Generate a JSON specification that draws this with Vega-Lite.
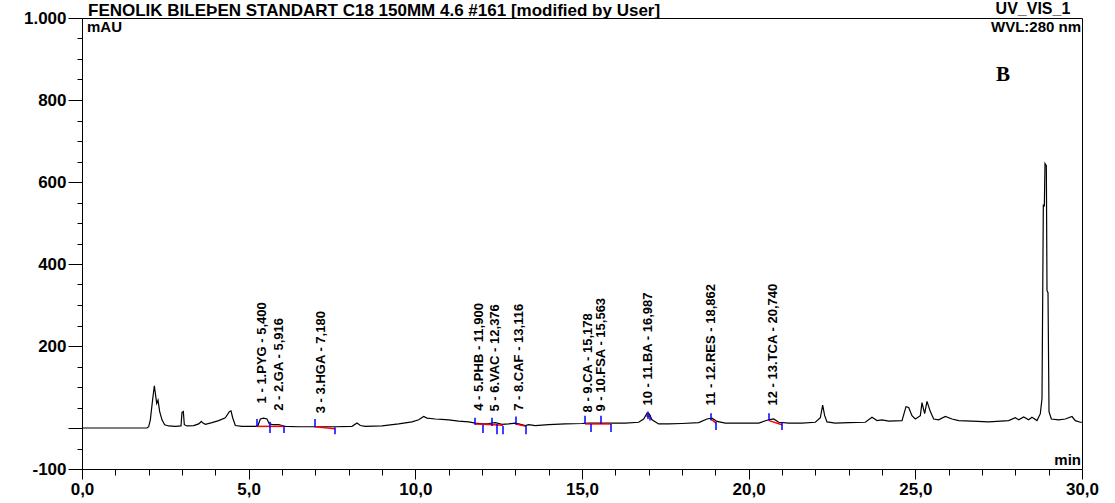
{
  "$schema": "https://vega.github.io/schema/vega-lite/v6.json",
  "width": 1000,
  "height": 451,
  "autosize": {"type": "none"},
  "padding": {"left": 82, "top": 18, "right": 33, "bottom": 34},
  "background": "white",
  "datasets": {
    "trace": [
      {"t":0,"v":0},{"t":1.95,"v":0},{"t":2.0,"v":3},{"t":2.05,"v":20},{"t":2.12,"v":70},{"t":2.17,"v":103},{"t":2.2,"v":85},{"t":2.24,"v":60},{"t":2.28,"v":68},{"t":2.33,"v":40},{"t":2.4,"v":20},{"t":2.48,"v":8},{"t":2.6,"v":5},{"t":2.8,"v":4},{"t":2.97,"v":5},{"t":3.0,"v":38},{"t":3.04,"v":40},{"t":3.07,"v":8},{"t":3.15,"v":5},{"t":3.35,"v":6},{"t":3.5,"v":10},{"t":3.58,"v":16},{"t":3.63,"v":12},{"t":3.7,"v":9},{"t":3.9,"v":13},{"t":4.1,"v":18},{"t":4.3,"v":25},{"t":4.42,"v":40},{"t":4.47,"v":42},{"t":4.52,"v":25},{"t":4.6,"v":6},{"t":4.8,"v":4},{"t":5.2,"v":4},{"t":5.28,"v":6},{"t":5.35,"v":22},{"t":5.45,"v":24},{"t":5.55,"v":22},{"t":5.62,"v":10},{"t":5.75,"v":8},{"t":5.9,"v":8},{"t":6.0,"v":6},{"t":6.1,"v":4},{"t":6.5,"v":3},{"t":7.0,"v":3},{"t":7.3,"v":3},{"t":7.6,"v":3},{"t":8.1,"v":4},{"t":8.25,"v":12},{"t":8.35,"v":6},{"t":8.5,"v":4},{"t":9.0,"v":5},{"t":9.5,"v":10},{"t":9.9,"v":15},{"t":10.1,"v":20},{"t":10.25,"v":28},{"t":10.35,"v":24},{"t":10.6,"v":22},{"t":10.8,"v":21},{"t":11.0,"v":20},{"t":11.3,"v":17},{"t":11.6,"v":15},{"t":11.8,"v":12},{"t":12.0,"v":10},{"t":12.2,"v":11},{"t":12.4,"v":13},{"t":12.6,"v":9},{"t":12.8,"v":10},{"t":13.0,"v":12},{"t":13.1,"v":10},{"t":13.3,"v":6},{"t":13.4,"v":8},{"t":13.6,"v":6},{"t":14.0,"v":8},{"t":14.5,"v":10},{"t":15.0,"v":11},{"t":15.2,"v":12},{"t":15.5,"v":12},{"t":15.9,"v":12},{"t":16.3,"v":12},{"t":16.7,"v":14},{"t":16.85,"v":22},{"t":16.95,"v":36},{"t":17.02,"v":34},{"t":17.1,"v":20},{"t":17.3,"v":10},{"t":17.6,"v":10},{"t":18.0,"v":11},{"t":18.5,"v":13},{"t":18.75,"v":22},{"t":18.9,"v":24},{"t":19.05,"v":16},{"t":19.3,"v":12},{"t":19.8,"v":12},{"t":20.3,"v":12},{"t":20.6,"v":20},{"t":20.75,"v":22},{"t":20.9,"v":14},{"t":21.2,"v":12},{"t":21.6,"v":12},{"t":22.0,"v":14},{"t":22.15,"v":25},{"t":22.22,"v":56},{"t":22.28,"v":30},{"t":22.35,"v":15},{"t":22.6,"v":12},{"t":23.0,"v":13},{"t":23.5,"v":14},{"t":23.7,"v":26},{"t":23.85,"v":18},{"t":24.0,"v":20},{"t":24.2,"v":17},{"t":24.6,"v":18},{"t":24.72,"v":52},{"t":24.8,"v":50},{"t":24.9,"v":30},{"t":25.0,"v":22},{"t":25.15,"v":30},{"t":25.2,"v":62},{"t":25.28,"v":35},{"t":25.35,"v":65},{"t":25.45,"v":40},{"t":25.55,"v":22},{"t":25.7,"v":20},{"t":25.9,"v":28},{"t":26.1,"v":22},{"t":26.3,"v":18},{"t":26.7,"v":17},{"t":27.2,"v":15},{"t":27.8,"v":18},{"t":28.0,"v":25},{"t":28.1,"v":20},{"t":28.25,"v":27},{"t":28.4,"v":20},{"t":28.5,"v":26},{"t":28.65,"v":18},{"t":28.75,"v":35},{"t":28.8,"v":72},{"t":28.84,"v":545},{"t":28.87,"v":540},{"t":28.89,"v":645},{"t":28.93,"v":640},{"t":28.95,"v":335},{"t":28.98,"v":330},{"t":29.01,"v":40},{"t":29.08,"v":22},{"t":29.3,"v":20},{"t":29.5,"v":22},{"t":29.7,"v":28},{"t":29.8,"v":18},{"t":29.95,"v":14},{"t":30,"v":14}
    ],
    "peaks": [
      {"rt":5.4,"lab":60,"label":"1 - 1.PYG - 5,400"},
      {"rt":5.916,"lab":42,"label":"2 - 2.GA - 5,916"},
      {"rt":7.18,"lab":36,"label":"3 - 3.HGA - 7,180"},
      {"rt":11.9,"lab":42,"label":"4 - 5.PHB - 11,900"},
      {"rt":12.376,"lab":40,"label":"5 - 6.VAC - 12,376"},
      {"rt":13.116,"lab":42,"label":"7 - 8.CAF - 13,116"},
      {"rt":15.178,"lab":38,"label":"8 - 9.CA - 15,178"},
      {"rt":15.563,"lab":40,"label":"9 - 10.FSA - 15,563"},
      {"rt":16.987,"lab":55,"label":"10 - 11.BA - 16,987"},
      {"rt":18.862,"lab":55,"label":"11 - 12.RES - 18,862"},
      {"rt":20.74,"lab":55,"label":"12 - 13.TCA - 20,740"}
    ],
    "delims": [
      {"t":5.25,"lo":3,"hi":22},{"t":5.64,"lo":-12,"hi":15},{"t":6.06,"lo":-12,"hi":5},
      {"t":6.99,"lo":2,"hi":22},{"t":7.59,"lo":-15,"hi":2},
      {"t":11.79,"lo":8,"hi":25},{"t":12.03,"lo":-12,"hi":8},{"t":12.3,"lo":5,"hi":25},{"t":12.45,"lo":-15,"hi":10},{"t":12.63,"lo":-15,"hi":5},
      {"t":13.02,"lo":8,"hi":28},{"t":13.32,"lo":-15,"hi":5},
      {"t":15.09,"lo":10,"hi":30},{"t":15.27,"lo":-10,"hi":10},{"t":15.57,"lo":10,"hi":30},{"t":15.87,"lo":-10,"hi":10},
      {"t":16.98,"lo":22,"hi":40},{"t":17.04,"lo":18,"hi":32},
      {"t":18.87,"lo":18,"hi":36},{"t":19.02,"lo":-5,"hi":15},
      {"t":20.61,"lo":18,"hi":36},{"t":21.0,"lo":-5,"hi":14}
    ],
    "bases": [
      {"t1":5.25,"v1":4,"t2":6.06,"v2":4},
      {"t1":6.99,"v1":3,"t2":7.59,"v2":-2},
      {"t1":11.79,"v1":10,"t2":12.03,"v2":9},
      {"t1":12.03,"v1":9,"t2":12.63,"v2":7},
      {"t1":13.02,"v1":10,"t2":13.32,"v2":4},
      {"t1":15.09,"v1":10,"t2":15.87,"v2":10},
      {"t1":16.92,"v1":30,"t2":17.04,"v2":28},
      {"t1":18.87,"v1":22,"t2":19.02,"v2":12},
      {"t1":20.61,"v1":18,"t2":21.0,"v2":8}
    ]
  },
  "layer": [
    {
      "data": {"name": "trace"},
      "mark": {"type": "line", "color": "black", "strokeWidth": 1.2},
      "encoding": {
        "x": {"field": "t", "type": "quantitative", "scale": {"domain": [0, 30], "nice": false, "zero": false},
          "axis": {"title": null, "orient": "bottom", "values": [0,5,10,15,20,25,30],
            "labelExpr": "replace(format(datum.value, '.1f'), '.', ',')",
            "tickSize": 10, "labelFlush": false, "labelOverlap": false, "labelPadding": 2}},
        "y": {"field": "v", "type": "quantitative", "scale": {"domain": [-100, 1000], "nice": false, "zero": false},
          "axis": {"title": null, "orient": "left", "values": [-100,0,200,400,600,800,1000],
            "labelExpr": "datum.value === 1000 ? '1.000' : datum.value === 0 ? '' : '' + datum.value",
            "tickSize": 14, "labelFlush": false, "labelOverlap": false, "labelPadding": 2}}
      }
    },
    {
      "data": {"name": "bases"},
      "mark": {"type": "rule", "color": "#ff0000", "strokeWidth": 1.5},
      "encoding": {
        "x": {"field": "t1", "type": "quantitative",
          "axis": {"title": null, "orient": "bottom", "values": [1,2,3,4,6,7,8,9,11,12,13,14,16,17,18,19,21,22,23,24,26,27,28,29], "labels": false, "domain": false, "tickSize": 6}},
        "x2": {"field": "t2"},
        "y": {"field": "v1", "type": "quantitative",
          "axis": {"title": null, "orient": "left", "values": [-50,50,100,150,250,300,350,450,500,550,650,700,750,850,900,950], "labels": false, "domain": false, "tickSize": 5}},
        "y2": {"field": "v2"}
      }
    },
    {
      "data": {"name": "delims"},
      "mark": {"type": "rule", "color": "#0000ff", "strokeWidth": 1.5},
      "encoding": {
        "x": {"field": "t", "type": "quantitative", "axis": null},
        "y": {"field": "lo", "type": "quantitative", "axis": null},
        "y2": {"field": "hi"}
      }
    },
    {
      "data": {"name": "peaks"},
      "mark": {"type": "text", "angle": 270, "align": "left", "baseline": "middle", "font": "Liberation Sans", "fontSize": 13, "fontWeight": "bold", "color": "black"},
      "encoding": {
        "x": {"field": "rt", "type": "quantitative", "axis": null},
        "y": {"field": "lab", "type": "quantitative", "axis": null},
        "text": {"field": "label"}
      }
    },
    {
      "data": {"values": [{}]},
      "mark": {"type": "text", "text": "FENOLIK BILEÞEN STANDART C18 150MM 4.6 #161 [modified by User]", "align": "left", "baseline": "alphabetic", "dy": -2, "font": "Liberation Sans", "fontSize": 17, "fontWeight": "bold", "color": "black"},
      "encoding": {"x": {"datum": 0.18, "type": "quantitative", "axis": null}, "y": {"datum": 1000, "type": "quantitative", "axis": null}}
    },
    {
      "data": {"values": [{}]},
      "mark": {"type": "text", "text": "UV_VIS_1", "align": "right", "baseline": "alphabetic", "dy": -4, "font": "Liberation Sans", "fontSize": 16, "fontWeight": "bold", "color": "black"},
      "encoding": {"x": {"datum": 29.65, "type": "quantitative", "axis": null}, "y": {"datum": 1000, "type": "quantitative", "axis": null}}
    },
    {
      "data": {"values": [{}]},
      "mark": {"type": "text", "text": "mAU", "align": "left", "baseline": "top", "dy": 2, "font": "Liberation Sans", "fontSize": 15, "fontWeight": "bold", "color": "black"},
      "encoding": {"x": {"datum": 0.15, "type": "quantitative", "axis": null}, "y": {"datum": 1000, "type": "quantitative", "axis": null}}
    },
    {
      "data": {"values": [{}]},
      "mark": {"type": "text", "text": "WVL:280 nm", "align": "right", "baseline": "top", "dy": 2, "font": "Liberation Sans", "fontSize": 15, "fontWeight": "bold", "color": "black"},
      "encoding": {"x": {"datum": 29.97, "type": "quantitative", "axis": null}, "y": {"datum": 1000, "type": "quantitative", "axis": null}}
    },
    {
      "data": {"values": [{}]},
      "mark": {"type": "text", "text": "min", "align": "right", "baseline": "bottom", "dy": -1, "font": "Liberation Sans", "fontSize": 15, "fontWeight": "bold", "color": "black"},
      "encoding": {"x": {"datum": 29.97, "type": "quantitative", "axis": null}, "y": {"datum": -100, "type": "quantitative", "axis": null}}
    },
    {
      "data": {"values": [{}]},
      "mark": {"type": "text", "text": "B", "align": "center", "baseline": "middle", "font": "Liberation Serif", "fontSize": 21, "fontWeight": "bold", "color": "black"},
      "encoding": {"x": {"datum": 27.63, "type": "quantitative", "axis": null}, "y": {"datum": 860, "type": "quantitative", "axis": null}}
    }
  ],
  "resolve": {"axis": {"x": "independent", "y": "independent"}},
  "config": {
    "view": {"stroke": "black", "strokeWidth": 1},
    "axis": {"grid": false, "domainColor": "black", "domainWidth": 1, "tickColor": "black", "tickWidth": 1, "labelColor": "black", "labelFont": "Liberation Sans", "labelFontWeight": "bold", "labelFontSize": 17}
  }
}
